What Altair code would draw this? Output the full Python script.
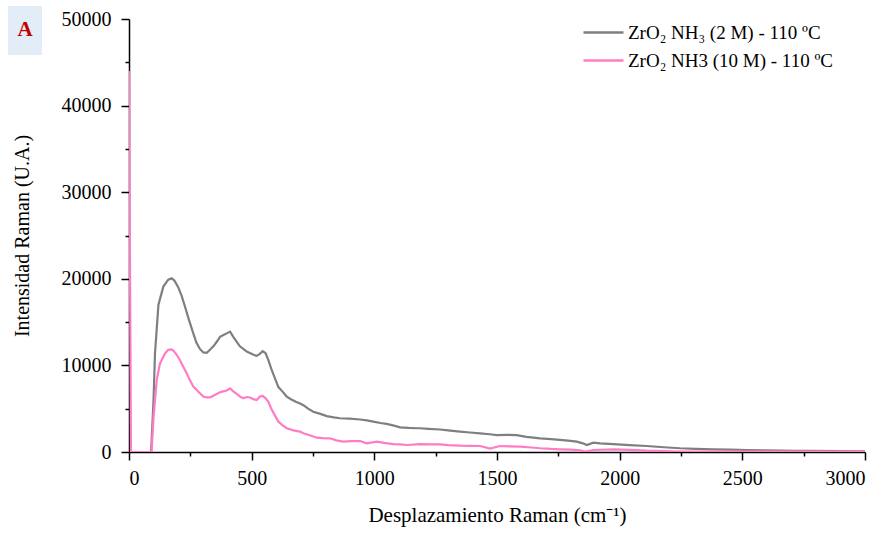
import altair as alt
import pandas as pd

LABEL_GRAY = "ZrO₂ NH₃ (2 M) - 110 ºC"
LABEL_PINK = "ZrO₂ NH3 (10 M) - 110 ºC"

gray_x = [5, 90, 100, 106, 120, 140, 160, 174, 185, 201, 215, 228, 245, 262, 275, 289, 303, 317, 330, 344,
          357, 371, 385, 398, 412, 425, 440, 452, 466, 480, 495, 510, 520, 532, 545, 557, 568, 580, 595, 609,
          625, 643, 660, 680, 697, 711, 730, 751, 780, 806, 835, 860, 900, 942, 970, 996, 1025, 1050, 1080, 1105,
          1140, 1173, 1186, 1220, 1268, 1300, 1349, 1390, 1431, 1470, 1499, 1540, 1580, 1620, 1676, 1720, 1757,
          1800, 1825, 1850, 1866, 1893, 1920, 1974, 2040, 2110, 2180, 2246, 2310, 2382, 2450, 2518, 2590, 2654,
          2720, 2790, 2900, 3000]
gray_y = [0, 0, 6000, 11400, 17000, 19100, 19900, 20050, 19800, 19000, 18000, 16800, 15200, 13700, 12600, 11900,
          11500, 11450, 11800, 12200, 12700, 13300, 13500, 13700, 13900, 13300, 12700, 12200, 11900, 11600, 11400,
          11200, 11100, 11300, 11650, 11400, 10600, 9600, 8500, 7500, 7000, 6400, 6100, 5800, 5600, 5400, 5000,
          4650, 4400, 4150, 4000, 3900, 3850, 3750, 3650, 3500, 3350, 3250, 3050, 2850, 2780, 2740, 2740, 2680,
          2600, 2500, 2350, 2250, 2150, 2050, 1950, 1980, 1950, 1750, 1580, 1480, 1390, 1280, 1190, 1000, 800,
          1080, 1000, 920, 800, 690, 550, 430, 370, 310, 270, 230, 190, 150, 130, 120, 100, 80]

pink_x = [0, 8, 92, 100, 113, 126, 147, 160, 172, 181, 195, 208, 222, 235, 248, 262, 275, 283, 303, 317, 330,
          344, 357, 371, 384, 398, 412, 425, 439, 452, 466, 480, 493, 507, 520, 534, 545, 557, 568, 580, 595,
          609, 625, 643, 670, 697, 711, 740, 765, 790, 819, 845, 874, 905, 942, 969, 1010, 1040, 1078, 1105,
          1132, 1173, 1186, 1230, 1268, 1300, 1349, 1390, 1431, 1472, 1512, 1550, 1594, 1640, 1676, 1720, 1757,
          1800, 1839, 1859, 1893, 1974, 2040, 2110, 2180, 2246, 2400, 2600, 2800, 3000]
pink_y = [44000, 0, 0, 4000, 8300, 10200, 11400, 11800, 11850, 11700, 11200, 10600, 9800, 9100, 8300, 7550,
          7200, 6950, 6400, 6300, 6300, 6500, 6700, 6900, 7000, 7100, 7350, 7000, 6700, 6400, 6200, 6350, 6300,
          6100, 6000, 6400, 6480, 6200, 5800, 5000, 4200, 3500, 3100, 2750, 2500, 2350, 2160, 1900, 1650, 1600,
          1580, 1350, 1200, 1250, 1270, 1000, 1190, 1050, 920, 890, 810, 890, 920, 870, 890, 800, 730, 700, 690,
          390, 690, 650, 620, 520, 430, 350, 310, 280, 200, 40, 230, 310, 250, 150, 100, 50, 50, 50, 50, 50]

x_ticks = [0, 250, 500, 750, 1000, 1250, 1500, 1750, 2000, 2250, 2500, 2750, 3000]
y_ticks = [0, 5000, 10000, 15000, 20000, 25000, 30000, 35000, 40000, 45000, 50000]

df_gray = pd.DataFrame({"x": gray_x, "y": gray_y, "s": LABEL_GRAY})
df_pink = pd.DataFrame({"x": pink_x, "y": pink_y, "s": LABEL_PINK})

FONT = "Liberation Serif"

xscale = alt.Scale(domain=[0, 3000], nice=False, zero=False)
yscale = alt.Scale(domain=[0, 50000], nice=False)
cscale = alt.Scale(domain=[LABEL_GRAY, LABEL_PINK], range=["#7f7f7f", "#ff7cc4"])

legend = alt.Legend(
    title=None, orient="none", legendX=463, legendY=2, symbolType="M-2,0L2,0",
    symbolSize=400, symbolStrokeWidth=2.5, labelFontSize=19, labelFont=FONT,
    labelColor="black", rowPadding=6, labelOffset=13, padding=0, labelLimit=0,
)

x_axis = alt.Axis(
    values=x_ticks, title="Desplazamiento Raman (cm⁻¹)", labelPadding=8,
    titlePadding=16, grid=False, format="d", orient="bottom", titleFontSize=21,
    labelExpr="datum.value % 500 === 0 ? datum.label : ''",
    tickSize={"condition": {"test": "datum.value % 500 === 0", "value": 8}, "value": 4},
)
y_axis = alt.Axis(
    values=y_ticks, title="Intensidad Raman (U.A.)", labelPadding=10,
    titlePadding=29, grid=False, format="d", orient="left", titleFontSize=20,
    labelExpr="datum.value % 10000 === 0 ? datum.label : ''",
    tickSize={"condition": {"test": "datum.value % 10000 === 0", "value": 8}, "value": 4},
)

gray = alt.Chart(df_gray).mark_line(strokeWidth=2.2, clip=True).encode(
    x=alt.X("x:Q", scale=xscale, axis=x_axis),
    y=alt.Y("y:Q", scale=yscale, axis=y_axis),
    color=alt.Color("s:N", scale=cscale, legend=legend),
)

pink = alt.Chart(df_pink).mark_line(strokeWidth=2.2, clip=True).encode(
    x=alt.X("x:Q", scale=xscale, axis=x_axis),
    y=alt.Y("y:Q", scale=yscale, axis=y_axis),
    color=alt.Color("s:N", scale=cscale, legend=legend),
)

box = alt.Chart(pd.DataFrame({"t": ["A"]})).mark_rect(color="#e3edf7", clip=False).encode(
    x=alt.value(-121), x2=alt.value(-87), y=alt.value(-13), y2=alt.value(36)
)
letter = alt.Chart(pd.DataFrame({"t": ["A"]})).mark_text(
    color="#c00000", font=FONT, fontSize=21, fontWeight="bold", align="center", baseline="middle", clip=False
).encode(x=alt.value(-104), y=alt.value(11), text="t:N")

chart = alt.layer(gray, pink, box, letter).properties(
    width=736, height=433,
    autosize=alt.AutoSizeParams(type="none"),
    padding={"left": 129, "top": 19, "right": 22, "bottom": 83},
    background="white",
).configure_view(stroke=None).configure_axis(
    domainColor="black", domainWidth=1.5, tickColor="black", tickWidth=1.5,
    labelFont=FONT, labelFontSize=20, labelColor="black",
    titleFont=FONT, titleColor="black", titleFontWeight="normal",
)

chart.save("out.html", embed_options={"renderer": "svg", "actions": False})
